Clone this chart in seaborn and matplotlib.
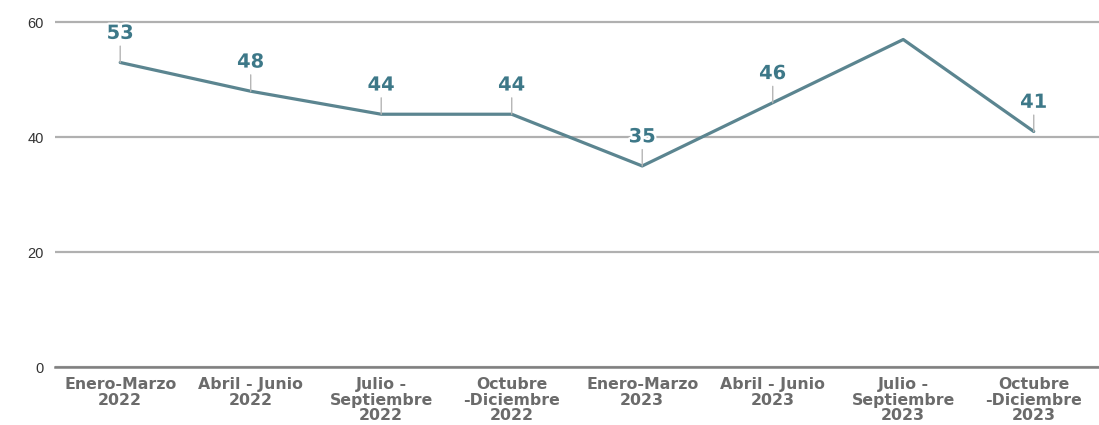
import numpy as np
import pandas as pd
import matplotlib.pyplot as plt
import matplotlib.patheffects as pe
import seaborn as sns

periodos = [
    "Enero-Marzo\n2022",
    "Abril - Junio\n2022",
    "Julio -\nSeptiembre\n2022",
    "Octubre\n-Diciembre\n2022",
    "Enero-Marzo\n2023",
    "Abril - Junio\n2023",
    "Julio -\nSeptiembre\n2023",
    "Octubre\n-Diciembre\n2023",
]
valores = [53, 48, 44, 44, 35, 46, 57, 41]
# the Jul-Sep 2023 point has no label in the original
mostrar_etiqueta = [True, True, True, True, True, True, False, True]

df = pd.DataFrame({"periodo": periodos, "valor": valores})
df["idx"] = range(len(df))

sns.set_theme(style="white")
plt.rcParams["font.family"] = ["Liberation Sans", "DejaVu Sans"]

fig, ax = plt.subplots(figsize=(10.99, 4.25), dpi=100)
fig.subplots_adjust(left=0.05, right=1.0, bottom=0.136, top=0.995)

line_color = "#5b8590"
label_color = "#3d7888"

sns.lineplot(data=df, x="idx", y="valor", color=line_color, linewidth=2.3, ax=ax, legend=False)

for i, row in df.iterrows():
    if not mostrar_etiqueta[i]:
        continue
    ax.annotate(
        str(row["valor"]),
        xy=(row["idx"], row["valor"]),
        xytext=(0, 21),
        textcoords="offset points",
        ha="center",
        va="center",
        fontsize=14,
        fontweight="bold",
        family=["DejaVu Sans"],
        color=label_color,
        path_effects=[pe.withStroke(linewidth=3, foreground="white")],
        arrowprops=dict(arrowstyle="-", color="#b5b5b5", lw=1, shrinkA=0, shrinkB=0),
    )

ax.set_ylim(0, 63.5)
ax.set_xlim(-0.5, 7.5)
ax.set_yticks([0, 20, 40, 60])
ax.set_xticks(df["idx"])
ax.set_xticklabels(periodos, fontsize=11.3, fontweight="heavy", color="#6b6b6b",
                   linespacing=1.05, family=["DejaVu Sans"])
ax.tick_params(axis="y", labelsize=10.5, colors="#333333", length=0, pad=8)
ax.tick_params(axis="x", length=0, pad=7)
ax.yaxis.grid(True, color="#b0b0b0", linewidth=1.6)
ax.set_axisbelow(True)
ax.set_xlabel("")
ax.set_ylabel("")
for s in ax.spines.values():
    s.set_visible(False)
ax.spines["bottom"].set_visible(True)
ax.spines["bottom"].set_color("#808080")
ax.spines["bottom"].set_linewidth(1.8)

fig.savefig("out.png", dpi=100, facecolor="white")
